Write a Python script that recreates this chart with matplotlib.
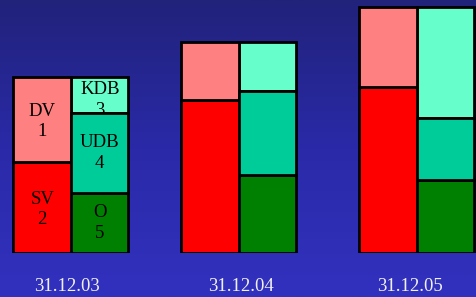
import matplotlib as mpl
import matplotlib.pyplot as plt
import numpy as np

mpl.rcParams['font.family'] = ['Liberation Serif', 'DejaVu Serif']

# data (arbitrary units)
dates = ['31.12.03', '31.12.04', '31.12.05']
sv = [91, 153, 166]
dv = [85, 58, 80]
o = [60, 78, 73]
udb = [80, 84, 62]
kdb = [36, 49, 111]

seg_labels_left = ['SV\n2', 'DV\n1']
seg_labels_right = ['O\n5', 'UDB\n4', 'KDB\n3']

c_sv, c_dv = '#ff0000', '#ff8080'
c_o, c_udb, c_kdb = '#008000', '#00cc99', '#66ffcc'

W, H = 477, 297
fig = plt.figure(figsize=(W / 100, H / 100), dpi=100)

# background gradient
bg = fig.add_axes([0, 0, 1, 1], zorder=0)
grad = np.linspace(0, 1, 256).reshape(-1, 1)
cmap = mpl.colors.LinearSegmentedColormap.from_list('bg', ['#21227a', '#2a2aa8', '#3131bf'])
bg.imshow(grad, aspect='auto', cmap=cmap, extent=[0, 1, 0, 1], origin='upper')
bg.axis('off')

ax = fig.add_axes([0, 44 / H, 1, 253 / H], zorder=1)
ax.patch.set_alpha(0)
ax.set_xlim(0, W)
ax.set_ylim(0, 253)

centers = np.array([71, 239, 417])
bw = 57.5
xl = centers - bw / 2
xr = centers + bw / 2
kw = dict(width=bw, edgecolor='black', linewidth=2)

ax.bar(xl, sv, color=c_sv, zorder=2, **kw)
ax.bar(xl, dv, bottom=sv, color=c_dv, zorder=2, **kw)
ax.bar(xr, o, color=c_o, zorder=2, **kw)
b_udb = np.array(o)
ax.bar(xr, udb, bottom=b_udb, color=c_udb, zorder=2, **kw)
b_kdb = b_udb + np.array(udb)
ax.bar(xr, kdb, bottom=b_kdb, color=c_kdb, zorder=1, **kw)

# segment labels, first group only
tk = dict(ha='center', va='center', fontsize=13.5, color='black', linespacing=1.3)
ax.text(xl[0], sv[0] / 2 - 2, seg_labels_left[0], zorder=3, **tk)
ax.text(xl[0], sv[0] + dv[0] / 2 - 2, seg_labels_left[1], zorder=3, **tk)
ax.text(xr[0], o[0] / 2, seg_labels_right[0], zorder=3, **tk)
ax.text(xr[0], o[0] + udb[0] / 2, seg_labels_right[1], zorder=3, **tk)
# the "3" is partly hidden behind the UDB segment's top edge
ax.text(xr[0], b_kdb[0] + kdb[0] / 2 - 5, seg_labels_right[2], zorder=1.5, **tk)

ax.set_xticks([67, 241, 410], dates)
ax.tick_params(axis='x', length=0, pad=18, labelsize=13.5, labelcolor='#f0f0f0')
ax.set_yticks([])
for s in ax.spines.values():
    s.set_visible(False)

fig.savefig('out.png', dpi=100)
